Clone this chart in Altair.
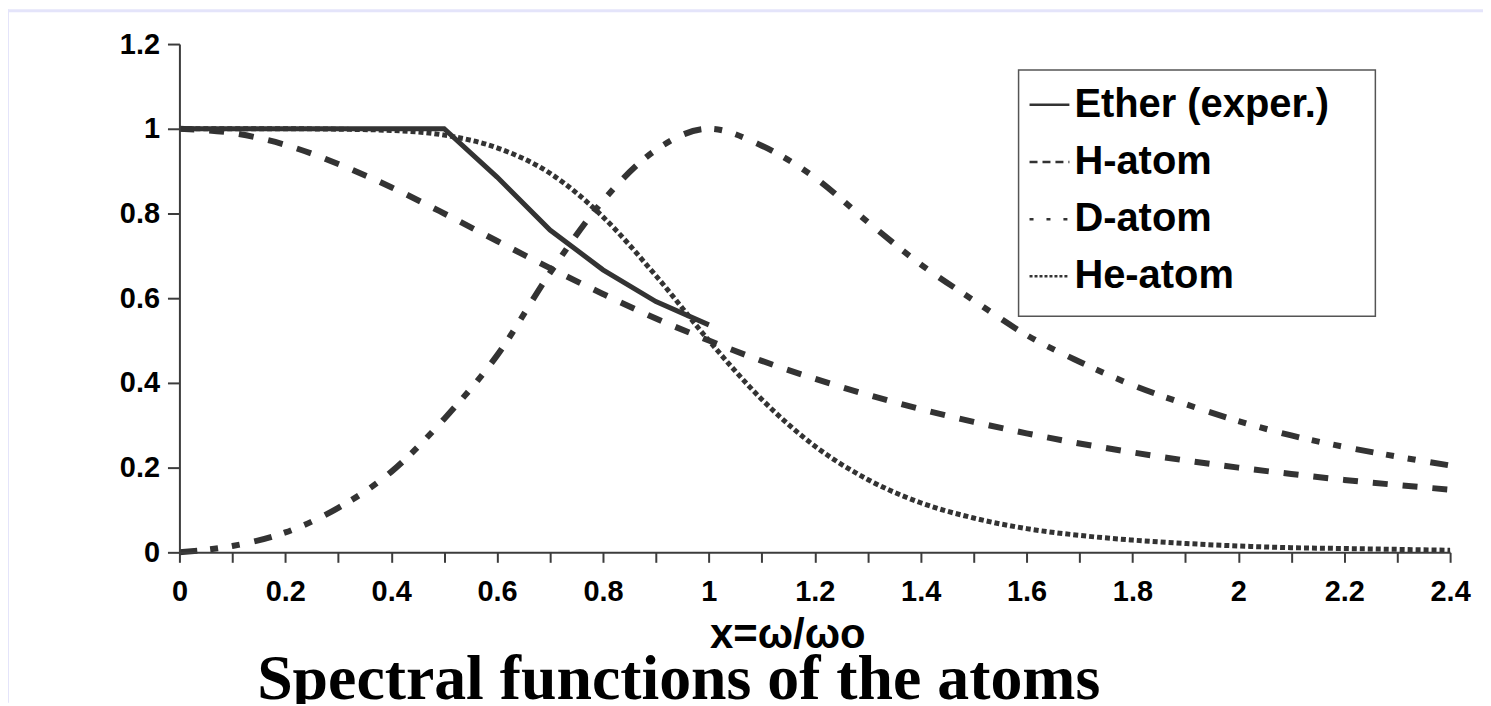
import altair as alt
import pandas as pd

# ---------------- data ----------------
x_vals = [0.0, 0.1, 0.2, 0.3, 0.4, 0.5, 0.6, 0.7, 0.8, 0.9, 1.0, 1.1, 1.2,
          1.3, 1.4, 1.5, 1.6, 1.7, 1.8, 1.9, 2.0, 2.1, 2.2, 2.3, 2.4]

ether_x = [0.0, 0.1, 0.2, 0.3, 0.4, 0.5, 0.6, 0.7, 0.8, 0.9, 1.0]
ether_y = [1.0, 1.0, 1.0, 1.0, 1.0, 1.0, 0.886, 0.761, 0.667, 0.592, 0.537]

h_y = [1.0, 0.990, 0.962, 0.917, 0.862, 0.800, 0.735, 0.671, 0.610, 0.552, 0.500,
       0.452, 0.410, 0.372, 0.338, 0.308, 0.281, 0.257, 0.236, 0.217, 0.200,
       0.185, 0.171, 0.159, 0.148]

d_y = [0.0, 0.015, 0.047, 0.105, 0.19, 0.315, 0.465, 0.66, 0.83, 0.95, 1.0,
       0.96, 0.885, 0.78, 0.68, 0.595, 0.513, 0.45, 0.395, 0.35, 0.31,
       0.276, 0.249, 0.226, 0.205]

he_y = [1.0, 1.0, 1.0, 0.999, 0.996, 0.985, 0.955, 0.895, 0.792, 0.653, 0.5,
        0.361, 0.251, 0.172, 0.117, 0.081, 0.056, 0.040, 0.029, 0.021, 0.015,
        0.011, 0.009, 0.007, 0.005]

series_names = ["Ether (exper.)", "H-atom", "D-atom", "He-atom"]
x_ticks = [0.0, 0.1, 0.2, 0.3, 0.4, 0.5, 0.6, 0.7, 0.8, 0.9, 1.0, 1.1, 1.2,
           1.3, 1.4, 1.5, 1.6, 1.7, 1.8, 1.9, 2.0, 2.1, 2.2, 2.3, 2.4]
y_ticks = [0.0, 0.2, 0.4, 0.6, 0.8, 1.0, 1.2]
x_title = "x=ω/ωo"
chart_title = "Spectral functions of the atoms"

# ---------------- tables ----------------
rows = []
for xv, yv in zip(ether_x, ether_y):
    rows.append({"series": series_names[0], "x": xv, "y": yv})
for name, ys in zip(series_names[1:], [h_y, d_y, he_y]):
    for xv, yv in zip(x_vals, ys):
        rows.append({"series": name, "x": xv, "y": yv})
df = pd.DataFrame(rows)
legend_df = pd.DataFrame({"series": series_names, "row": list(range(len(series_names)))})
one = pd.DataFrame({"t": [chart_title]})

INK = "#333333"
AXIS = "#3c3c3c"
SANS = "Liberation Sans"

x_axis = alt.Axis(
    values=x_ticks, format="~g",
    labelExpr="(round(datum.value*10) % 2 == 0) ? datum.label : ''",
    title=x_title, titleX=610, titleY=95, titleAlign="center",
    titleBaseline="alphabetic", titleFont=SANS, titleFontWeight="bold",
    titleFontSize=42, titleColor="black",
    tickSize=10, tickWidth=2, tickColor=AXIS, domainColor=AXIS, domainWidth=2,
    grid=False, labelPadding=15, labelFont=SANS, labelFontWeight="bold",
    labelFontSize=29, labelColor="black", labelFlush=False, labelOverlap=False,
    zindex=1,
)
y_axis = alt.Axis(
    values=y_ticks, format="~g", title=None,
    tickSize=12, tickWidth=2, tickColor=AXIS, domainColor=AXIS, domainWidth=2,
    grid=False, labelPadding=8, labelFont=SANS, labelFontWeight="bold",
    labelFontSize=29, labelColor="black", labelOverlap=False, zindex=1,
)
X = alt.X("x:Q", scale=alt.Scale(domain=[0, 2.4], nice=False, zero=False), axis=x_axis)
Y = alt.Y("y:Q", scale=alt.Scale(domain=[0, 1.2], nice=False), axis=y_axis)


def line(name, width, dash=None, interp="linear"):
    kw = dict(color=INK, strokeWidth=width, interpolate=interp)
    if dash is not None:
        kw["strokeDash"] = dash
    return (alt.Chart(df).transform_filter(alt.datum.series == name)
            .mark_line(**kw).encode(x=X, y=Y))


LAV = "#e4e4fa"
strip_top = alt.Chart(one).mark_rect(fill=LAV).encode(
    x=alt.value(-172), x2=alt.value(1308), y=alt.value(-35), y2=alt.value(-32))
strip_left = alt.Chart(one).mark_rect(fill=LAV).encode(
    x=alt.value(-172), x2=alt.value(-171), y=alt.value(-35), y2=alt.value(661))

title_text = alt.Chart(one).mark_text(
    align="left", baseline="alphabetic", font="Liberation Serif",
    fontWeight="bold", fontSize=64, color="black",
).encode(x=alt.value(78), y=alt.value(657), text="t:N")

base = alt.layer(
    strip_top, strip_left,
    line(series_names[2], 6, [18, 13, 8, 14, 8, 15], "monotone"),
    line(series_names[1], 6, [15, 15], "monotone"),
    line(series_names[3], 5, [5, 3], "monotone"),
    line(series_names[0], 5),
    title_text,
)

row_y = alt.Y("row:Q", scale=alt.Scale(domain=[0, 3], range=[61, 233]), axis=None)
box = alt.Chart(one).mark_rect(fill="white", stroke="#555555", strokeWidth=1.5).encode(
    x=alt.value(842), x2=alt.value(1200), y=alt.value(26), y2=alt.value(273))
samples = alt.Chart(legend_df).mark_rule(color=INK, strokeWidth=2.5).encode(
    x=alt.value(853), x2=alt.value(893), y=row_y,
    strokeDash=alt.StrokeDash("series:N", scale=alt.Scale(
        domain=series_names, range=[[1, 0], [8, 5], [4, 13], [3, 2]]), legend=None),
)
labels = alt.Chart(legend_df).mark_text(
    align="left", baseline="middle", font=SANS, fontWeight="bold",
    fontSize=40, color="black",
).encode(x=alt.value(898), y=row_y, text="series:N")
legend = alt.layer(box, samples, labels)

chart = alt.layer(base, legend).resolve_scale(
    y="independent", strokeDash="independent"
).properties(
    width=1275, height=510,
    autosize=alt.AutoSizeParams(type="none"),
    padding={"left": 172, "top": 35, "right": 33, "bottom": 151},
    background="white",
).configure_view(strokeWidth=0)

chart.save("out.html", embed_options={"renderer": "svg", "actions": False})
